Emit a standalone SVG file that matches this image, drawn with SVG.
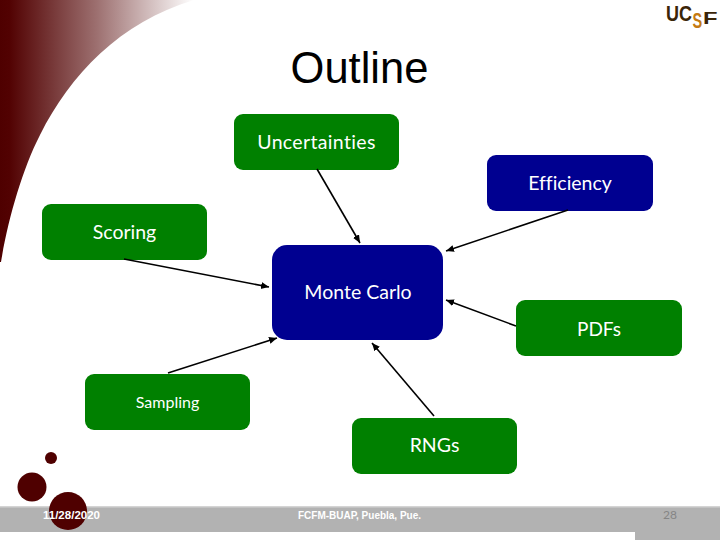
<svg xmlns="http://www.w3.org/2000/svg" width="720" height="540" viewBox="0 0 720 540">
<style>
.n{font-family:Lato,Carlito,"Liberation Sans",sans-serif;font-size:19.500px;fill:#fff;text-anchor:middle;font-variant-ligatures:none}
.g{fill:#008000}.b{fill:#000090}
.c line{stroke:#000;stroke-width:1.6;marker-end:url(#a)}
.f{font-family:"Liberation Sans",Arial,sans-serif;font-size:11px;font-weight:bold;fill:#fff;text-anchor:start}
.l{font-family:"Liberation Sans",Arial,sans-serif;font-weight:bold}
</style>
<defs>
<linearGradient id="sw" x1="0" y1="0" x2="1" y2="0"><stop offset="0" stop-color="#4f0000"/><stop offset=".05" stop-color="#520202"/><stop offset=".5" stop-color="#9d7070"/><stop offset="1" stop-color="#fff"/></linearGradient>
<marker id="a" markerUnits="userSpaceOnUse" markerWidth="10" markerHeight="10" refX="8" refY="3.5" orient="auto"><path d="M0 0L8 3.500L0 7Z" fill="#000"/></marker>
</defs>
<rect width="720" height="540" fill="#fff"/>
<path d="M0 0H194C120 22 70 75 40 135C22 170 8 220 1 262L0 262Z" fill="url(#sw)"/>
<g id="footer">
<rect y="506" width="720" height="26" fill="#b2b2b2"/>
<rect y="506" width="720" height="1.5" fill="#d4d4d4"/>
<rect x="635" y="532" width="85" height="8" fill="#b2b2b2"/>
</g>
<g id="dots" fill="#4f0000">
<circle cx="51" cy="458" r="6"/>
<circle cx="32" cy="487" r="14.5"/>
<circle cx="68" cy="511" r="19"/>
</g>
<text class="f" x="43" y="519" textLength="57" lengthAdjust="spacingAndGlyphs">11/28/2020</text>
<text class="f" x="298" y="519" textLength="123" lengthAdjust="spacingAndGlyphs">FCFM-BUAP, Puebla, Pue.</text>
<text x="670" y="519" font-family="Lato,sans-serif" font-size="12" fill="#858585" text-anchor="middle">28</text>
<g id="logo" class="l">
<text transform="translate(666 21) scale(.82 1)" font-size="22" fill="#3a2508">UC</text>
<text transform="translate(692.500 28) scale(.66 1)" font-size="22" fill="#c47a12">S</text>
<text transform="translate(703 24) scale(1.4 1)" font-size="17" fill="#3a2508">F</text>
</g>
<text x="359.500" y="83" font-family="Liberation Sans,Arial,sans-serif" font-size="43.500" fill="#000" text-anchor="middle">Outline</text>
<g id="uncertainties"><rect class="g" x="234" y="114" width="165" height="56" rx="9"/><text class="n" x="316.500" y="149" letter-spacing=".35">Uncertainties</text></g>
<g id="efficiency"><rect class="b" x="487" y="155" width="166" height="56" rx="9"/><text class="n" x="570" y="190">Efficiency</text></g>
<g id="scoring"><rect class="g" x="42" y="204" width="165" height="56" rx="9"/><text class="n" x="124.500" y="239">Scoring</text></g>
<g id="monte-carlo"><rect class="b" x="272" y="245" width="171" height="95" rx="15"/><text class="n" x="358" y="299">Monte Carlo</text></g>
<g id="pdfs"><rect class="g" x="516" y="300" width="166" height="56" rx="9"/><text class="n" x="599" y="336" style="font-size:19px">PDFs</text></g>
<g id="sampling"><rect class="g" x="85" y="374" width="165" height="56" rx="9"/><text class="n" x="167.500" y="408" style="font-size:16px">Sampling</text></g>
<g id="rngs"><rect class="g" x="352" y="418" width="165" height="56" rx="9"/><text class="n" x="434.500" y="452">RNGs</text></g>
<g class="c" id="connectors">
<line x1="317" y1="169" x2="360" y2="243"/>
<line x1="568" y1="210" x2="446" y2="251"/>
<line x1="124" y1="259" x2="269" y2="287"/>
<line x1="516" y1="326" x2="446" y2="300"/>
<line x1="168" y1="373" x2="277" y2="338"/>
<line x1="434" y1="416" x2="372" y2="343"/>
</g>
</svg>
